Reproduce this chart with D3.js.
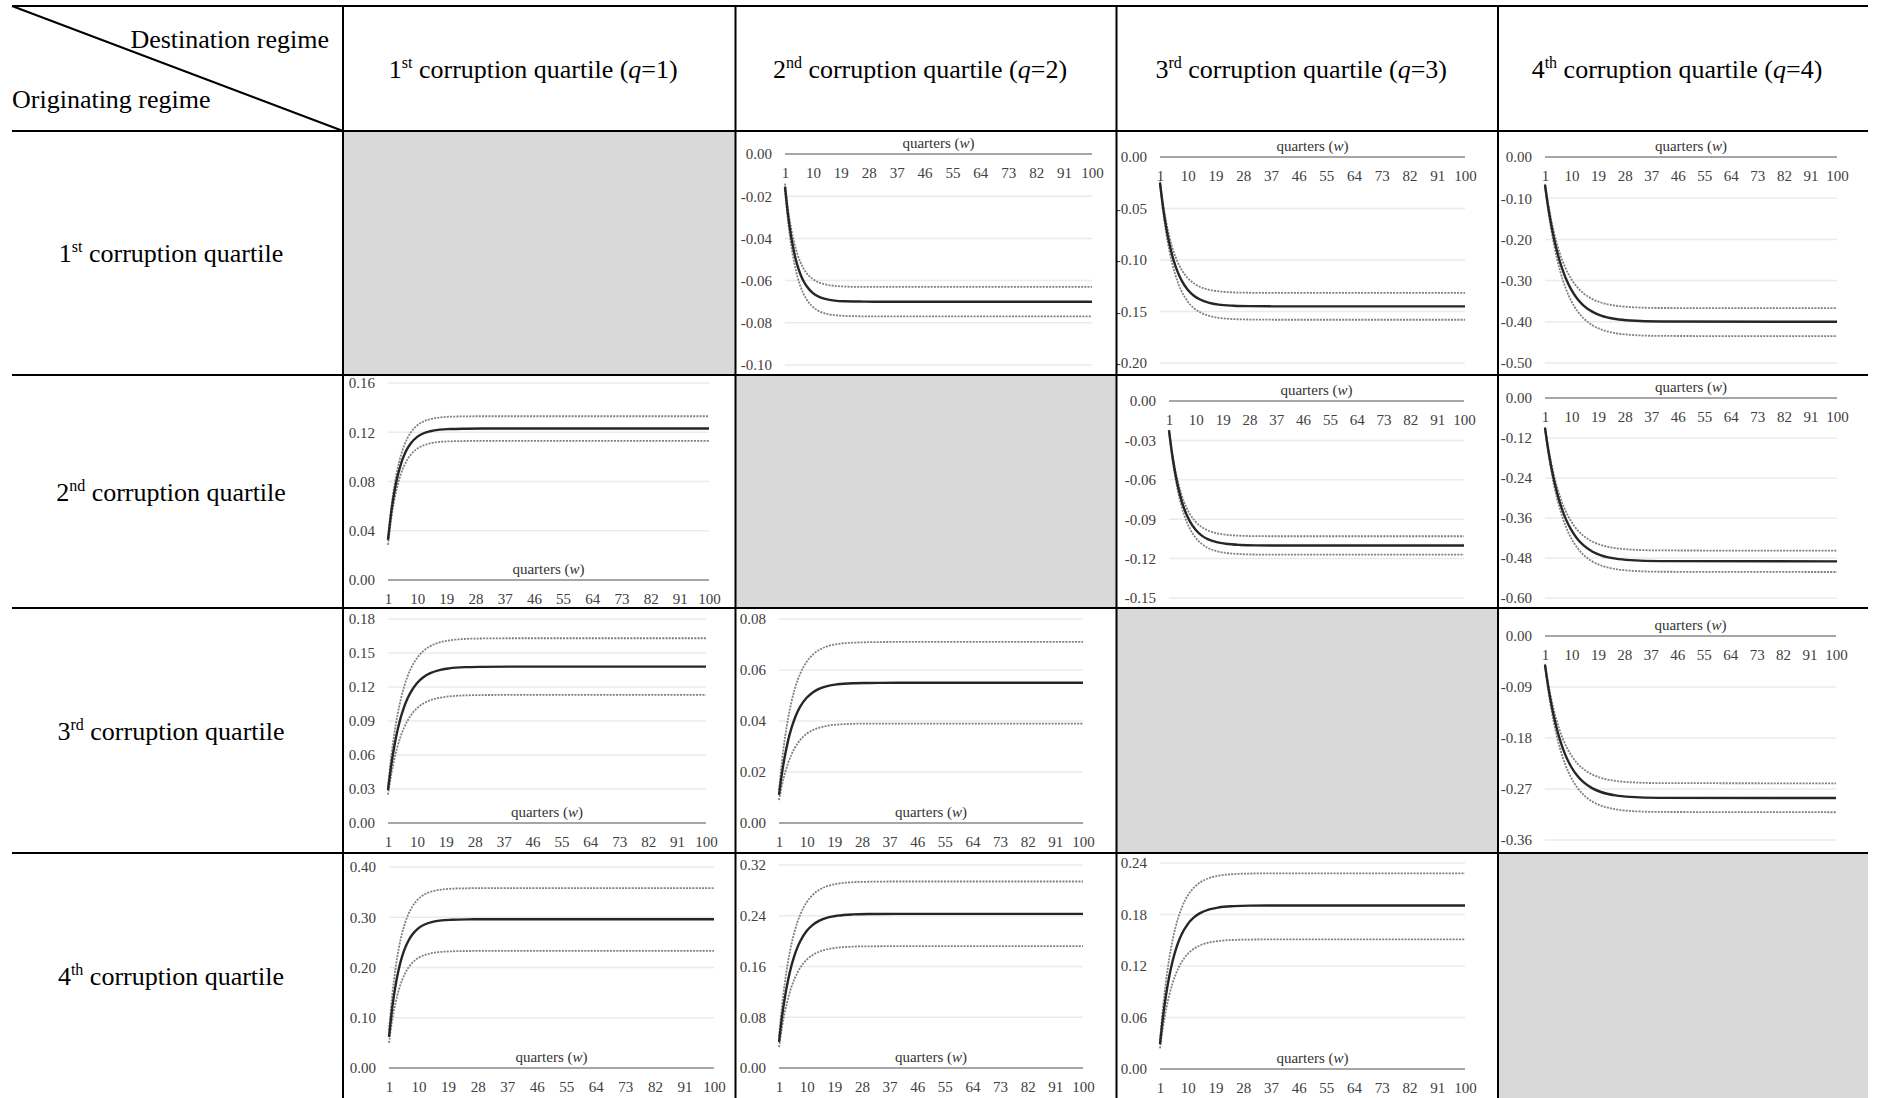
<!DOCTYPE html>
<html>
<head>
<meta charset="utf-8" />
<title>Responses across corruption quartiles</title>
<script src="https://d3js.org/d3.v7.min.js"></script>
<style>
  body { margin: 0; background: #fff; }
  svg text { font-family: "Liberation Serif", "Times New Roman", serif; }
  .cell-text { font-size: 26px; fill: #000; }
  .tick text { font-size: 15px; fill: #404040; }
  .axis-title { font-size: 15px; fill: #333; }
  .grid { stroke: #ebebeb; stroke-width: 1.5px; }
  .zero { stroke: #a6a6a6; stroke-width: 2px; }
  .mean { fill: none; stroke: #262626; stroke-width: 2.4px; }
  .band { fill: none; stroke: #808080; stroke-width: 1.8px; stroke-dasharray: 2, 1.2; }
  .rule { stroke: #000; stroke-width: 2px; }
</style>
</head>
<body>
<script>
const quarters = [1, 2, 3, 4, 5, 6, 7, 8, 10, 12, 14, 17, 20, 25, 30, 40, 100];
const xTicks = [1, 10, 19, 28, 37, 46, 55, 64, 73, 82, 91, 100];
const ordinals = [['1', 'st'], ['2', 'nd'], ['3', 'rd'], ['4', 'th']];

// originating 1st quartile
const o1d2Ticks = [0, -0.02, -0.04, -0.06, -0.08, -0.10];
const o1d2Mean = [-0.0155, -0.0291, -0.0393, -0.0470, -0.0528, -0.0571, -0.0603, -0.0627, -0.0659, -0.0677, -0.0687, -0.0695, -0.0698, -0.0699, -0.0700, -0.0700, -0.0700];
const o1d2Upper = [-0.0140, -0.0263, -0.0354, -0.0423, -0.0475, -0.0514, -0.0543, -0.0565, -0.0593, -0.0609, -0.0618, -0.0625, -0.0628, -0.0630, -0.0630, -0.0630, -0.0630];
const o1d2Lower = [-0.0170, -0.0320, -0.0433, -0.0517, -0.0580, -0.0628, -0.0663, -0.0690, -0.0725, -0.0745, -0.0756, -0.0764, -0.0767, -0.0769, -0.0770, -0.0770, -0.0770];

const o1d3Ticks = [0, -0.05, -0.10, -0.15, -0.20];
const o1d3Mean = [-0.025, -0.049, -0.0682, -0.0836, -0.0958, -0.1057, -0.1135, -0.1198, -0.1289, -0.1347, -0.1384, -0.1416, -0.1433, -0.1444, -0.1448, -0.145, -0.145];
const o1d3Upper = [-0.024, -0.0456, -0.0629, -0.0767, -0.0878, -0.0966, -0.1037, -0.1094, -0.1175, -0.1227, -0.1261, -0.129, -0.1304, -0.1315, -0.1318, -0.132, -0.132];
const o1d3Lower = [-0.026, -0.0524, -0.0735, -0.0904, -0.1039, -0.1147, -0.1234, -0.1303, -0.1403, -0.1467, -0.1507, -0.1543, -0.1561, -0.1574, -0.1578, -0.158, -0.158];

const o1d4Ticks = [0, -0.10, -0.20, -0.30, -0.40, -0.50];
const o1d4Mean = [-0.068, -0.1178, -0.1601, -0.1961, -0.2267, -0.2527, -0.2748, -0.2936, -0.3231, -0.3445, -0.3599, -0.3753, -0.3849, -0.3933, -0.397, -0.3994, -0.40];
const o1d4Upper = [-0.065, -0.1103, -0.1488, -0.1815, -0.2094, -0.233, -0.2531, -0.2702, -0.2971, -0.3165, -0.3305, -0.3446, -0.3532, -0.3609, -0.3643, -0.3665, -0.367];
const o1d4Lower = [-0.071, -0.1256, -0.172, -0.2115, -0.245, -0.2735, -0.2977, -0.3183, -0.3507, -0.3741, -0.391, -0.408, -0.4184, -0.4276, -0.4317, -0.4343, -0.435];

// originating 2nd quartile
const o2d1Ticks = [0, 0.04, 0.08, 0.12, 0.16];
const o2d1Mean = [0.0325, 0.0551, 0.0721, 0.0848, 0.0944, 0.1015, 0.1069, 0.1109, 0.1162, 0.1192, 0.1208, 0.1221, 0.1226, 0.1229, 0.123, 0.123, 0.123];
const o2d1Upper = [0.0335, 0.0584, 0.077, 0.091, 0.1015, 0.1094, 0.1153, 0.1197, 0.1255, 0.1288, 0.1306, 0.132, 0.1326, 0.1329, 0.133, 0.133, 0.133];
const o2d1Lower = [0.0285, 0.0496, 0.0655, 0.0774, 0.0863, 0.0929, 0.098, 0.1017, 0.1067, 0.1094, 0.111, 0.1122, 0.1126, 0.1129, 0.113, 0.113, 0.113];

const o2d3Ticks = [0, -0.03, -0.06, -0.09, -0.12, -0.15];
const o2d3Mean = [-0.0223, -0.0398, -0.0539, -0.0651, -0.0741, -0.0813, -0.087, -0.0916, -0.0982, -0.1025, -0.1052, -0.1075, -0.1087, -0.1096, -0.1099, -0.110, -0.110];
const o2d3Upper = [-0.022, -0.0382, -0.0512, -0.0615, -0.0698, -0.0765, -0.0818, -0.086, -0.0921, -0.096, -0.0985, -0.1007, -0.1018, -0.1026, -0.1029, -0.103, -0.103];
const o2d3Lower = [-0.0226, -0.0415, -0.0566, -0.0687, -0.0783, -0.0861, -0.0923, -0.0972, -0.1043, -0.1089, -0.1118, -0.1143, -0.1156, -0.1166, -0.1169, -0.117, -0.117];

const o2d4Ticks = [0, -0.12, -0.24, -0.36, -0.48, -0.60];
const o2d4Mean = [-0.09, -0.15, -0.201, -0.2444, -0.2812, -0.3125, -0.3392, -0.3618, -0.3974, -0.4231, -0.4416, -0.4603, -0.4718, -0.4819, -0.4864, -0.4893, -0.49];
const o2d4Upper = [-0.087, -0.1426, -0.19, -0.2302, -0.2643, -0.2934, -0.3181, -0.3391, -0.3721, -0.3959, -0.4131, -0.4304, -0.4411, -0.4505, -0.4547, -0.4573, -0.458];
const o2d4Lower = [-0.093, -0.1573, -0.212, -0.2586, -0.2981, -0.3317, -0.3602, -0.3845, -0.4226, -0.4502, -0.4701, -0.4901, -0.5024, -0.5133, -0.5181, -0.5212, -0.522];

// originating 3rd quartile
const o3d1Ticks = [0, 0.03, 0.06, 0.09, 0.12, 0.15, 0.18];
const o3d1Mean = [0.029, 0.0508, 0.0682, 0.0822, 0.0934, 0.1023, 0.1094, 0.1151, 0.1234, 0.1286, 0.132, 0.1349, 0.1364, 0.1375, 0.1378, 0.138, 0.138];
const o3d1Upper = [0.032, 0.0582, 0.0792, 0.0959, 0.1093, 0.1201, 0.1287, 0.1355, 0.1454, 0.1517, 0.1558, 0.1593, 0.1611, 0.1624, 0.1628, 0.163, 0.163];
const o3d1Lower = [0.025, 0.0426, 0.0567, 0.0679, 0.077, 0.0842, 0.0899, 0.0945, 0.1012, 0.1054, 0.1082, 0.1105, 0.1117, 0.1126, 0.1129, 0.113, 0.113];

const o3d2Ticks = [0, 0.02, 0.04, 0.06, 0.08];
const o3d2Mean = [0.011, 0.0198, 0.0268, 0.0325, 0.037, 0.0406, 0.0435, 0.0458, 0.0491, 0.0512, 0.0526, 0.0538, 0.0544, 0.0548, 0.0549, 0.055, 0.055];
const o3d2Upper = [0.013, 0.0246, 0.0339, 0.0413, 0.0472, 0.052, 0.0558, 0.0588, 0.0632, 0.066, 0.0678, 0.0694, 0.0702, 0.0707, 0.0709, 0.071, 0.071];
const o3d2Lower = [0.009, 0.015, 0.0198, 0.0236, 0.0267, 0.0292, 0.0311, 0.0327, 0.035, 0.0364, 0.0373, 0.0382, 0.0386, 0.0389, 0.039, 0.039, 0.039];

const o3d4Ticks = [0, -0.09, -0.18, -0.27, -0.36];
const o3d4Mean = [-0.051, -0.0862, -0.1162, -0.1417, -0.1633, -0.1817, -0.1974, -0.2107, -0.2316, -0.2467, -0.2576, -0.2685, -0.2753, -0.2813, -0.2839, -0.2856, -0.286];
const o3d4Upper = [-0.049, -0.0806, -0.1076, -0.1304, -0.1499, -0.1664, -0.1804, -0.1924, -0.2111, -0.2247, -0.2345, -0.2443, -0.2504, -0.2557, -0.2581, -0.2596, -0.26];
const o3d4Lower = [-0.053, -0.0917, -0.1246, -0.1526, -0.1763, -0.1965, -0.2137, -0.2283, -0.2512, -0.2678, -0.2798, -0.2918, -0.2992, -0.3058, -0.3087, -0.3105, -0.311];

// originating 4th quartile
const o4d1Ticks = [0, 0.10, 0.20, 0.30, 0.40];
const o4d1Mean = [0.062, 0.1205, 0.1644, 0.1973, 0.222, 0.2405, 0.2543, 0.2648, 0.2784, 0.2861, 0.2904, 0.2937, 0.295, 0.2958, 0.296, 0.296, 0.296];
const o4d1Upper = [0.075, 0.1457, 0.1988, 0.2386, 0.2685, 0.2908, 0.3076, 0.3202, 0.3367, 0.3461, 0.3513, 0.3552, 0.3568, 0.3577, 0.3579, 0.358, 0.358];
const o4d1Lower = [0.05, 0.0957, 0.1301, 0.1558, 0.1751, 0.1896, 0.2004, 0.2086, 0.2193, 0.2253, 0.2286, 0.2312, 0.2322, 0.2328, 0.233, 0.233, 0.233];

const o4d2Ticks = [0, 0.08, 0.16, 0.24, 0.32];
const o4d2Mean = [0.041, 0.0814, 0.1137, 0.1396, 0.1603, 0.1768, 0.1901, 0.2006, 0.2159, 0.2256, 0.2319, 0.2373, 0.2401, 0.2421, 0.2427, 0.243, 0.243];
const o4d2Upper = [0.05, 0.0988, 0.1378, 0.1691, 0.1941, 0.214, 0.23, 0.2428, 0.2613, 0.273, 0.2806, 0.2871, 0.2905, 0.2929, 0.2936, 0.294, 0.294];
const o4d2Lower = [0.033, 0.0648, 0.0902, 0.1106, 0.1269, 0.1399, 0.1503, 0.1587, 0.1707, 0.1783, 0.1833, 0.1875, 0.1897, 0.1913, 0.1918, 0.192, 0.192];

const o4d3Ticks = [0, 0.06, 0.12, 0.18, 0.24];
const o4d3Mean = [0.029, 0.0613, 0.0871, 0.1078, 0.1243, 0.1376, 0.1482, 0.1566, 0.1688, 0.1766, 0.1816, 0.186, 0.1882, 0.1897, 0.1903, 0.1905, 0.1905];
const o4d3Upper = [0.034, 0.0728, 0.1038, 0.1287, 0.1485, 0.1644, 0.1772, 0.1873, 0.202, 0.2113, 0.2173, 0.2225, 0.2252, 0.2271, 0.2277, 0.228, 0.228];
const o4d3Lower = [0.024, 0.0494, 0.0697, 0.086, 0.099, 0.1094, 0.1177, 0.1244, 0.134, 0.1401, 0.144, 0.1474, 0.1492, 0.1504, 0.1508, 0.151, 0.151];

const panels = [
  { row: 1, col: 2, ticks: o1d2Ticks, mean: o1d2Mean, upper: o1d2Upper, lower: o1d2Lower },
  { row: 1, col: 3, ticks: o1d3Ticks, mean: o1d3Mean, upper: o1d3Upper, lower: o1d3Lower },
  { row: 1, col: 4, ticks: o1d4Ticks, mean: o1d4Mean, upper: o1d4Upper, lower: o1d4Lower },
  { row: 2, col: 1, ticks: o2d1Ticks, mean: o2d1Mean, upper: o2d1Upper, lower: o2d1Lower },
  { row: 2, col: 3, ticks: o2d3Ticks, mean: o2d3Mean, upper: o2d3Upper, lower: o2d3Lower },
  { row: 2, col: 4, ticks: o2d4Ticks, mean: o2d4Mean, upper: o2d4Upper, lower: o2d4Lower },
  { row: 3, col: 1, ticks: o3d1Ticks, mean: o3d1Mean, upper: o3d1Upper, lower: o3d1Lower },
  { row: 3, col: 2, ticks: o3d2Ticks, mean: o3d2Mean, upper: o3d2Upper, lower: o3d2Lower },
  { row: 3, col: 4, ticks: o3d4Ticks, mean: o3d4Mean, upper: o3d4Upper, lower: o3d4Lower },
  { row: 4, col: 1, ticks: o4d1Ticks, mean: o4d1Mean, upper: o4d1Upper, lower: o4d1Lower },
  { row: 4, col: 2, ticks: o4d2Ticks, mean: o4d2Mean, upper: o4d2Upper, lower: o4d2Lower },
  { row: 4, col: 3, ticks: o4d3Ticks, mean: o4d3Mean, upper: o4d3Upper, lower: o4d3Lower }
];

// plot boxes inside the table cells (pixels): x0, x1, top, bottom
const plotBox = {
  '1-2': [785, 1092, 154, 365],
  '1-3': [1160, 1465, 157, 363],
  '1-4': [1545, 1837, 157, 363],
  '2-1': [388, 709, 383, 580],
  '2-3': [1169, 1464, 401, 598],
  '2-4': [1545, 1837, 398, 598],
  '3-1': [388, 706, 619, 823],
  '3-2': [779, 1083, 619, 823],
  '3-4': [1545, 1836, 636, 840],
  '4-1': [389, 714, 867, 1068],
  '4-2': [779, 1083, 865, 1068],
  '4-3': [1160, 1465, 863, 1069]
};

const serif = '"Liberation Serif", "Times New Roman", serif';
const colX = [12, 343, 735.5, 1116.5, 1498, 1868];
const rowY = [6, 131, 375, 608, 853, 1098];

const svg = d3.select('body').append('svg')
  .attr('width', 1878)
  .attr('height', 1098)
  .attr('font-family', serif);

// grey cells on the diagonal
for (let i = 1; i <= 4; i++) {
  svg.append('rect')
    .attr('x', colX[i]).attr('y', rowY[i])
    .attr('width', colX[i + 1] - colX[i])
    .attr('height', rowY[i + 1] - rowY[i])
    .attr('fill', '#d9d9d9');
}

function quartileLabel(x, y, k, withQ) {
  const t = svg.append('text').attr('class', 'cell-text')
    .attr('x', x).attr('y', y).attr('text-anchor', 'middle');
  t.append('tspan').text(ordinals[k][0]);
  t.append('tspan').attr('font-size', 16).attr('dy', -10).text(ordinals[k][1]);
  t.append('tspan').attr('dy', 10).text(' corruption quartile');
  if (withQ) {
    t.append('tspan').text(' (');
    t.append('tspan').attr('font-style', 'italic').text('q');
    t.append('tspan').text('=' + ordinals[k][0] + ')');
  }
}

// header row and row labels
for (let k = 0; k < 4; k++) {
  quartileLabel((colX[k + 1] + colX[k + 2]) / 2 - 6, 78, k, true);
  quartileLabel(171, (rowY[k + 1] + rowY[k + 2]) / 2 + 9, k, false);
}
svg.append('text').attr('class', 'cell-text')
  .attr('x', 329).attr('y', 48).attr('text-anchor', 'end')
  .text('Destination regime');
svg.append('text').attr('class', 'cell-text')
  .attr('x', 12).attr('y', 108)
  .text('Originating regime');

const fmt = (d) => d.toFixed(2);

panels.forEach((p) => {
  const [x0, x1, top, bottom] = plotBox[p.row + '-' + p.col];
  const x = d3.scaleLinear().domain([1, 100]).range([x0, x1]);
  const y = d3.scaleLinear().domain(d3.extent(p.ticks)).range([bottom, top]);
  const g = svg.append('g');

  g.selectAll('.grid')
    .data(p.ticks.filter((t) => t !== 0))
    .join('line')
    .attr('class', 'grid')
    .attr('x1', x0).attr('x2', x1)
    .attr('y1', (d) => y(d)).attr('y2', (d) => y(d));

  g.append('line').attr('class', 'zero')
    .attr('x1', x0).attr('x2', x1)
    .attr('y1', y(0)).attr('y2', y(0));

  const yAxis = g.append('g')
    .attr('transform', `translate(${x0},0)`)
    .call(d3.axisLeft(y).tickValues(p.ticks).tickFormat(fmt).tickSize(0).tickPadding(13))
    .attr('font-family', serif);
  yAxis.select('.domain').remove();

  const xAxis = g.append('g')
    .attr('transform', `translate(0,${y(0)})`)
    .call(d3.axisBottom(x).tickValues(xTicks).tickSize(0).tickPadding(13))
    .attr('font-family', serif);
  xAxis.select('.domain').remove();

  const title = g.append('text').attr('class', 'axis-title')
    .attr('x', (x0 + x1) / 2).attr('y', y(0) - 6)
    .attr('text-anchor', 'middle');
  title.append('tspan').text('quarters (');
  title.append('tspan').attr('font-style', 'italic').text('w');
  title.append('tspan').text(')');

  const line = d3.line()
    .x((d) => x(d.q))
    .y((d) => y(d.v))
    .curve(d3.curveMonotoneX);
  const series = (vals) => quarters.map((q, i) => ({ q: q, v: vals[i] }));

  g.append('path').datum(series(p.upper)).attr('class', 'band').attr('d', line);
  g.append('path').datum(series(p.lower)).attr('class', 'band').attr('d', line);
  g.append('path').datum(series(p.mean)).attr('class', 'mean').attr('d', line);
});

// table rules
rowY.slice(0, 5).forEach((yy) => {
  svg.append('line').attr('class', 'rule')
    .attr('x1', colX[0]).attr('x2', colX[5])
    .attr('y1', yy).attr('y2', yy);
});
colX.slice(1, 5).forEach((xx) => {
  svg.append('line').attr('class', 'rule')
    .attr('x1', xx).attr('x2', xx)
    .attr('y1', rowY[0]).attr('y2', rowY[5]);
});
svg.append('line').attr('class', 'rule')
  .attr('stroke-width', 1.5)
  .attr('x1', colX[0]).attr('y1', rowY[0])
  .attr('x2', colX[1]).attr('y2', rowY[1]);
</script>
</body>
</html>
